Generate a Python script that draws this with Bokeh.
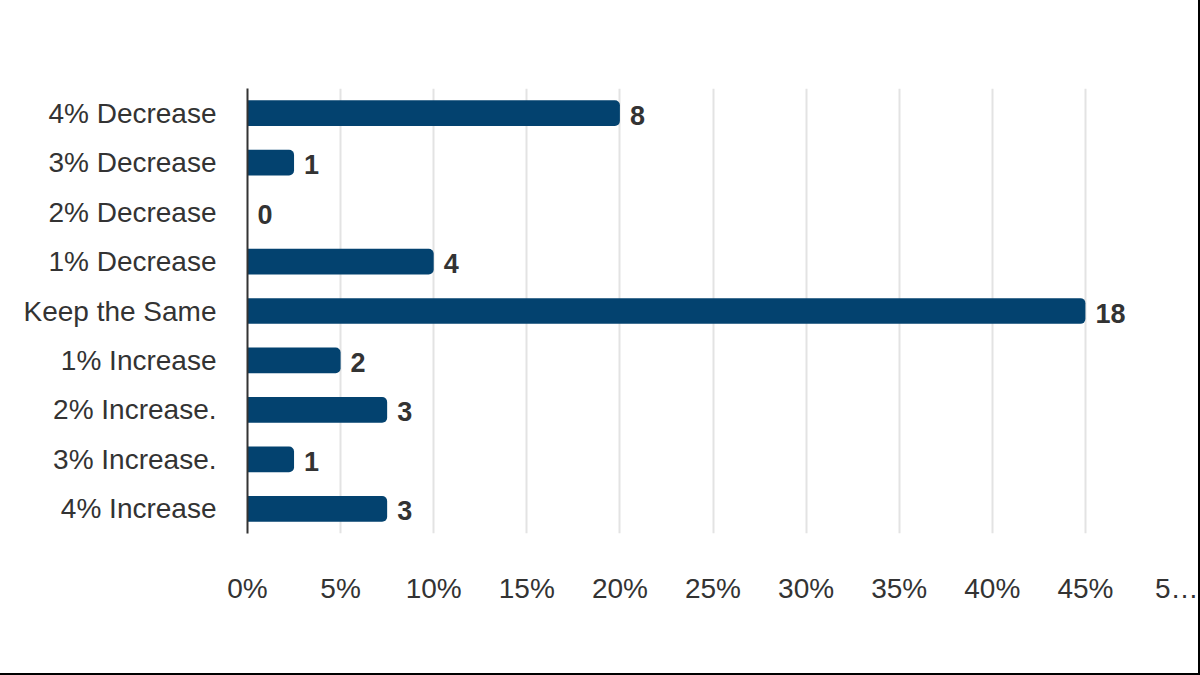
from bokeh.plotting import figure
from bokeh.models import FactorRange, ColumnDataSource, Range1d, FixedTicker
from bokeh.core.properties import value
from bokeh.embed import file_html
from bokeh.resources import INLINE

categories = ["4% Decrease", "3% Decrease", "2% Decrease", "1% Decrease", "Keep the Same",
              "1% Increase", "2% Increase.", "3% Increase.", "4% Increase"]
counts = [8, 1, 0, 4, 18, 2, 3, 1, 3]
x_ticks = [0, 5, 10, 15, 20, 25, 30, 35, 40, 45, 50]
x_tick_labels = ["0%", "5%", "10%", "15%", "20%", "25%", "30%", "35%", "40%", "45%", "5…"]

total = sum(counts)
pct = [c / total * 100 for c in counts]

src = ColumnDataSource(dict(cat=categories, pct=pct, lbl=[str(c) for c in counts]))

FONT = "Liberation Sans"

p = figure(width=1200, height=675, output_backend="svg", toolbar_location=None,
           y_range=FactorRange(factors=list(reversed(categories)), range_padding=0),
           x_range=Range1d(0, 50),
           min_border_left=247, min_border_right=22, min_border_top=88, min_border_bottom=142)
p.styles = {"border-right": "2px solid #000", "border-bottom": "2px solid #000", "box-sizing": "border-box"}
p.outline_line_color = None
p.background_fill_color = "white"

p.hbar(y="cat", right="pct", left=0, height=0.52, source=src, color="#03426f",
       line_color=None, border_radius=(0, 5, 5, 0))
p.text(x="pct", y="cat", text="lbl", source=src, x_offset=10, y_offset=2, text_align="left",
       text_baseline="middle", text_font=value(FONT), text_font_size="27px",
       text_font_style="bold", text_color="#333333")

p.xaxis.ticker = FixedTicker(ticks=x_ticks)
p.xaxis.major_label_overrides = {t: l for t, l in zip(x_ticks, x_tick_labels)}
p.xaxis.axis_line_color = None
p.xaxis.major_tick_line_color = None
p.xaxis.minor_tick_line_color = None
p.xaxis.major_label_standoff = 33
p.xaxis.major_label_text_font = FONT
p.xaxis.major_label_text_font_size = "28px"
p.xaxis.major_label_text_color = "#333333"

p.yaxis.axis_line_color = "#333333"
p.yaxis.axis_line_width = 2
p.yaxis.major_tick_line_color = None
p.yaxis.minor_tick_line_color = None
p.yaxis.major_label_standoff = 25
p.yaxis.major_label_text_font = FONT
p.yaxis.major_label_text_font_size = "28px"
p.yaxis.major_label_text_color = "#333333"

p.ygrid.grid_line_color = None
p.xgrid.grid_line_color = "#e3e3e3"
p.xgrid.grid_line_width = 2

open("out.html", "w").write(file_html(p, INLINE))
